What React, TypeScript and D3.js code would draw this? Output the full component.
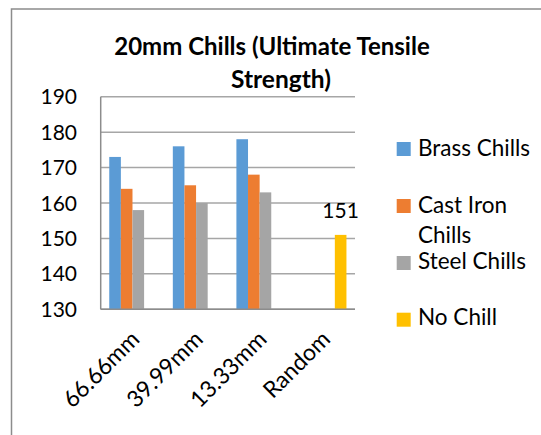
import React from "react";
import * as d3 from "d3";

const categories = ["66.66mm", "39.99mm", "13.33mm", "Random"];
const seriesNames = ["Brass Chills", "Cast Iron Chills", "Steel Chills", "No Chill"];
const brass: (number | null)[] = [173, 176, 178, null];
const castIron: (number | null)[] = [164, 165, 168, null];
const steel: (number | null)[] = [158, 160, 163, null];
const noChill: (number | null)[] = [null, null, null, 151];
const yTicks = [130, 140, 150, 160, 170, 180, 190];
const colors = ["#5B9BD5", "#ED7D31", "#A5A5A5", "#FFC000"];

const FONT = "Lato, 'Open Sans', sans-serif";

export default function App() {
  const W = 541, H = 435;
  const plot = { left: 100.7, right: 355, top: 96.7, bottom: 309.3 };
  const series = [brass, castIron, steel, noChill];

  const y = d3.scaleLinear().domain([130, 190]).range([plot.bottom, plot.top]);
  const x0 = d3.scaleBand().domain(categories).range([plot.left, plot.right]).paddingInner(0.269).paddingOuter(0.1345);
  const x1 = d3.scaleBand().domain(seriesNames).range([0, x0.bandwidth()]);

  const legendItems = [
    { lines: ["Brass Chills"], sqY: 142, base: 155.7 },
    { lines: ["Cast Iron", "Chills"], sqY: 199, base: 212.7 },
    { lines: ["Steel Chills"], sqY: 256, base: 269 },
    { lines: ["No Chill"], sqY: 312.7, base: 325 },
  ];

  return (
    <svg width={W} height={H} style={{ position: "absolute", left: 0, top: 0 }} fontFamily={FONT}>
      <rect x={0} y={0} width={W} height={H} fill="#fff" />
      <rect x={11.5} y={9} width={W + 20} height={H + 20} fill="none" stroke="#8c8c8c" strokeWidth={1.5} />
      <text x={272} y={55} textAnchor="middle" fontWeight="bold" fontSize={24} fill="#000">20mm Chills (Ultimate Tensile</text>
      <text x={281} y={88} textAnchor="middle" fontWeight="bold" fontSize={24.5} fill="#000">Strength)</text>

      {yTicks.map((t) => (
        <g key={t}>
          <line x1={plot.left} x2={plot.right} y1={y(t)} y2={y(t)} stroke="#a6a6a6" strokeWidth={1.5} />
          <text x={77} y={y(t)} dy="0.36em" textAnchor="end" fontSize={21} fill="#000">{t}</text>
        </g>
      ))}

      {series.map((vals, si) =>
        vals.map((v, ci) =>
          v == null ? null : (
            <rect
              key={`${si}-${ci}`}
              x={(x0(categories[ci]) as number) + (x1(seriesNames[si]) as number)}
              y={y(v)}
              width={x1.bandwidth()}
              height={y(130) - y(v)}
              fill={colors[si]}
            />
          )
        )
      )}

      {noChill.map((v, ci) =>
        v == null ? null : (
          <text key={ci} x={(x0(categories[ci]) as number) + (x1("No Chill") as number) + x1.bandwidth() / 2}
            y={y(v) - 17} textAnchor="middle" fontSize={21} fill="#000">{v}</text>
        )
      )}

      <line x1={plot.left} x2={plot.left} y1={plot.top} y2={plot.bottom} stroke="#8c8c8c" strokeWidth={1.5} />
      <line x1={plot.left} x2={plot.right} y1={plot.bottom} y2={plot.bottom} stroke="#8c8c8c" strokeWidth={1.5} />

      {categories.map((c) => {
        const cx = (x0(c) as number) + x0.bandwidth() / 2;
        return (
          <text key={c} transform={`translate(${cx - 3},${plot.bottom + 20}) rotate(-45)`} textAnchor="end"
            dy="0.7em" fontSize={23} fill="#000">{c}</text>
        );
      })}

      {legendItems.map((it, i) => (
        <g key={i}>
          <rect x={396.7} y={it.sqY} width={14} height={14} fill={colors[i]} />
          {it.lines.map((l, li) => (
            <text key={li} x={418} y={it.base + li * 30.5} fontSize={22.5} fill="#000">{l}</text>
          ))}
        </g>
      ))}
    </svg>
  );
}
